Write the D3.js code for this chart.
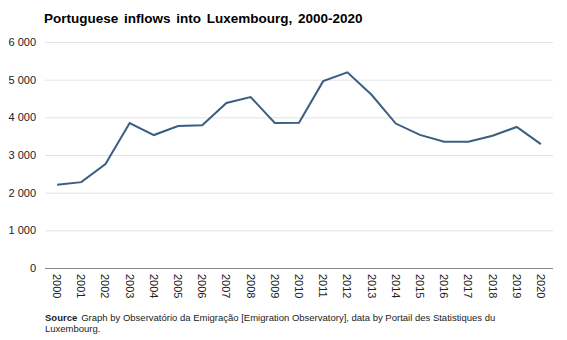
<!DOCTYPE html>
<html>
<head>
<meta charset="utf-8">
<script src="https://cdn.jsdelivr.net/npm/d3@7"></script>
<style>
  body { margin: 0; background: #fff; }
  text { font-family: "Liberation Sans", Arial, sans-serif; }
</style>
</head>
<body>
<svg id="chart" width="567" height="340"></svg>
<script>
// data
const years = ["2000","2001","2002","2003","2004","2005","2006","2007","2008","2009","2010",
               "2011","2012","2013","2014","2015","2016","2017","2018","2019","2020"];
const inflows = [2210, 2280, 2760, 3850, 3530, 3770, 3790, 4380, 4540, 3850, 3855,
                 4960, 5195, 4600, 3835, 3535, 3350, 3350, 3510, 3745, 3290];
const yTicks = [0, 1000, 2000, 3000, 4000, 5000, 6000];

const svg = d3.select("#chart");
const margin = {top: 42, left: 45, right: 14, bottom: 72};
const width = 567, height = 340;

const x = d3.scaleBand().domain(years).range([margin.left, width - margin.right]);
const y = d3.scaleLinear().domain([0, 6000]).range([height - margin.bottom, margin.top]);

const fmt = d => d3.format(",")(d).replace(",", " ");

// title
svg.append("text")
  .attr("x", 44).attr("y", 23)
  .style("font-size", "13.5px").style("font-weight", "bold")
  .style("word-spacing", "2px")
  .text("Portuguese inflows into Luxembourg, 2000-2020");

// gridlines
svg.append("g")
  .selectAll("line")
  .data(yTicks.filter(d => d > 0))
  .enter().append("line")
  .attr("x1", margin.left).attr("x2", width - margin.right)
  .attr("y1", d => y(d) + 0.5).attr("y2", d => y(d) + 0.5)
  .style("stroke", "#dfe4ea").style("stroke-width", 1);

// y labels
svg.append("g")
  .selectAll("text")
  .data(yTicks)
  .enter().append("text")
  .attr("x", 36).attr("y", d => y(d) + 4)
  .attr("text-anchor", "end")
  .style("font-size", "11px").style("fill", "#222")
  .text(fmt);

// baseline
svg.append("line")
  .attr("x1", margin.left).attr("x2", width - margin.right)
  .attr("y1", y(0) + 0.5).attr("y2", y(0) + 0.5)
  .style("stroke", "#888").style("stroke-width", 1);

// x labels, rotated
svg.append("g")
  .selectAll("text")
  .data(years)
  .enter().append("text")
  .attr("transform", d => "translate(" + (x(d) + x.bandwidth() / 2 - 4) + "," + (y(0) + 6) + ") rotate(90)")
  .attr("text-anchor", "start")
  .style("font-size", "11px").style("fill", "#222")
  .text(d => d);

// the line
const line = d3.line()
  .x((d, i) => x(years[i]) + x.bandwidth() / 2)
  .y(d => y(d));

svg.append("path")
  .datum(inflows)
  .attr("d", line)
  .style("fill", "none")
  .style("stroke", "#3c5d82")
  .style("stroke-width", 2);

// source note
const src = svg.append("text")
  .attr("x", 45).attr("y", 321)
  .style("font-size", "9.5px").style("fill", "#222");
src.append("tspan").style("font-weight", "bold").text("Source");
src.append("tspan").attr("dx", 4).text("Graph by Observatório da Emigração [Emigration Observatory], data by Portail des Statistiques du");
svg.append("text")
  .attr("x", 45).attr("y", 332)
  .style("font-size", "9.5px").style("fill", "#222")
  .text("Luxembourg.");
</script>
</body>
</html>
